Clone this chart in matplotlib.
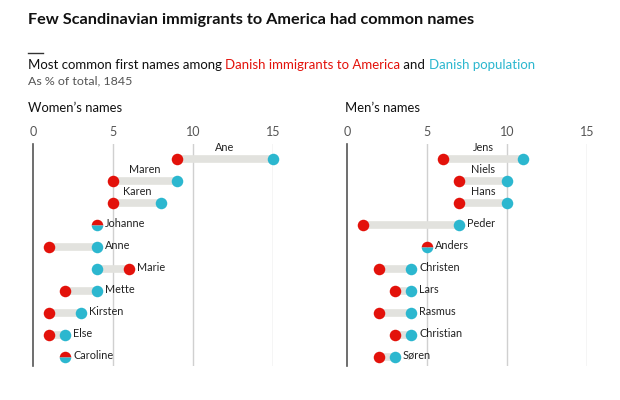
import matplotlib
matplotlib.use("Agg")
import matplotlib.pyplot as plt
from matplotlib.lines import Line2D

plt.rcParams['font.family'] = ['Lato', 'DejaVu Sans']

RED = "#E3120B"
CYAN = "#2CB7CF"
GREYBAR = "#E2E2DE"

women_names = ["Ane", "Maren", "Karen", "Johanne", "Anne", "Marie", "Mette", "Kirsten", "Else", "Caroline"]
women_immig = [9, 5, 5, 4, 1, 6, 2, 1, 1, 2]
women_pop = [15, 9, 8, 4, 4, 4, 4, 3, 2, 2]

men_names = ["Jens", "Niels", "Hans", "Peder", "Anders", "Christen", "Lars", "Rasmus", "Christian", "Søren"]
men_immig = [6, 7, 7, 1, 5, 2, 3, 2, 3, 2]
men_pop = [11, 10, 10, 7, 5, 4, 4, 4, 4, 3]

ticks = [0, 5, 10, 15]

W, H = 620, 400
fig = plt.figure(figsize=(6.2, 4.0), dpi=100)

def px(x0, y0, x1, y1):
    return [x0 / W, 1 - y1 / H, (x1 - x0) / W, (y1 - y0) / H]

def panel(ax, names, immig, pop, title_x, title):
    ax.set_xlim(0, 15)
    ax.set_ylim(9.42, -0.66)
    for s in ax.spines.values():
        s.set_visible(False)
    ax.set_yticks([])
    ax.xaxis.tick_top()
    ax.set_xticks(ticks)
    ax.set_xticklabels([str(t) for t in ticks])
    ax.tick_params(axis='x', length=0, pad=4, labelsize=9, labelcolor="#555555")
    for t in ticks:
        if t == 0:
            ax.axvline(t, color="#555555", lw=1.2, zorder=0, clip_on=False)
        else:
            ax.axvline(t, color="#D0D0D0", lw=1.0, zorder=0)
    for i, (n, a, b) in enumerate(zip(names, immig, pop)):
        lo, hi = min(a, b), max(a, b)
        if a != b:
            ax.plot([lo, hi], [i, i], color=GREYBAR, lw=5.5, solid_capstyle='butt', zorder=1)
            ax.plot([a], [i], 'o', ms=8.3, color=RED, mec='none', zorder=3, clip_on=False)
            ax.plot([b], [i], 'o', ms=8.3, color=CYAN, mec='none', zorder=3, clip_on=False)
        else:
            ax.plot([a], [i], 'o', ms=8.3, color=RED, markerfacecoloralt=CYAN,
                    fillstyle='top', mec='none', zorder=3, clip_on=False)
        if i < 3:
            ax.text((lo + hi) / 2, i - 0.5, n, ha='center', va='center', fontsize=7.8, color="#222222")
        else:
            ax.text(hi + 0.5, i - 0.07, n, ha='left', va='center', fontsize=7.8, color="#222222")
    fig.text(title_x / W, 1 - 108 / H, title, fontsize=9.4, color="#111111", va='center', ha='left')

axL = fig.add_axes(px(33, 144, 273, 366))
axR = fig.add_axes(px(347, 144, 587, 366))
panel(axL, women_names, women_immig, women_pop, 28, "Women’s names")
panel(axR, men_names, men_immig, men_pop, 345, "Men’s names")

fig.text(28 / W, 1 - 20 / H, "Few Scandinavian immigrants to America had common names",
         fontsize=11.7, fontweight='bold', color="#111111", va='center', ha='left')
fig.add_artist(Line2D([28 / W, 43 / W], [1 - 53 / H, 1 - 53 / H], color="#333333", lw=1.0))

parts = [("Most common first names among ", "#111111"),
         ("Danish immigrants to America", RED),
         (" and ", "#111111"),
         ("Danish population", CYAN)]
fig.canvas.draw()
r = fig.canvas.get_renderer()
x = 28 / W
for s, c in parts:
    t = fig.text(x, 1 - 65 / H, s, fontsize=9.5, color=c, va='center', ha='left')
    bb = t.get_window_extent(renderer=r)
    x += bb.width / (W)
fig.text(28 / W, 1 - 81 / H, "As % of total, 1845", fontsize=8.9, color="#555555", va='center', ha='left')

fig.savefig("out.png", dpi=100, facecolor="white")
